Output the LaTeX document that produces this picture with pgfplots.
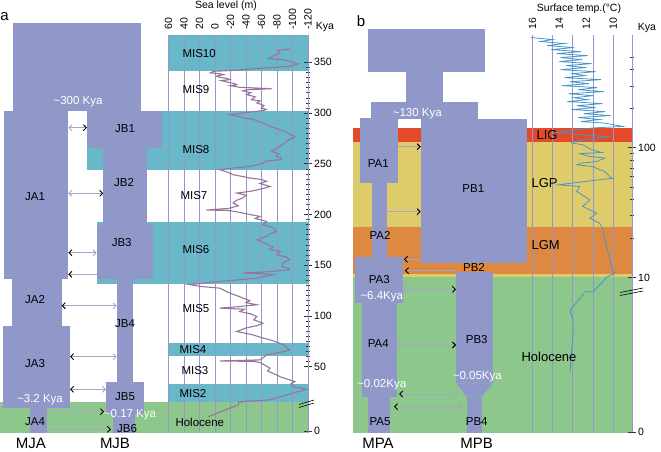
\documentclass[border=0pt]{standalone}
\usepackage{fontspec}
\setmainfont{Liberation Sans}
\usepackage{pgfplots}
\usepackage{pgfplotstable}
\pgfplotsset{compat=1.18}
\usetikzlibrary{arrows.meta}

\definecolor{tree}{RGB}{143,152,201}
\definecolor{mis}{RGB}{104,184,201}
\definecolor{holo}{RGB}{141,199,139}
\definecolor{lig}{RGB}{226,74,42}
\definecolor{lgp}{RGB}{222,204,106}
\definecolor{lgm}{RGB}{222,137,66}
\definecolor{grd}{RGB}{150,150,205}
\definecolor{sea}{RGB}{152,116,156}
\definecolor{sst}{RGB}{72,150,200}
\definecolor{arr}{RGB}{165,165,200}

\newcommand{\fs}{\fontsize{10.5}{12}\selectfont}
\newcommand{\fm}{\fontsize{11.5}{13}\selectfont}
\newcommand{\fl}{\fontsize{13}{14}\selectfont}
\newcommand{\fb}{\fontsize{15}{16}\selectfont}

% shapes in pixel units of the 661x452 frame, y pointing down
\newcommand{\blk}[5]{\addplot[fill=#1,draw=none] coordinates {(#2,#3) (#4,#3) (#4,#5) (#2,#5)};}
\newcommand{\lnk}[4]{\addplot[arr,line width=0.9pt,#1] coordinates {(#2,#4) (#3,#4)};}

\tikzset{
  lg/.style={arrows={Straight Barb[color=arr,length=3pt]-Straight Barb[color=black,length=3pt]}},
  lb/.style={arrows={Straight Barb[color=black,length=3pt]-Straight Barb[color=arr,length=3pt]}},
  ob/.style={arrows={-Straight Barb[color=black,length=3pt]}},
  bo/.style={arrows={Straight Barb[color=black,length=3pt]-}},
}

% sea level (m) against age (kya)
\pgfplotstableread{
sl kya
-97 363
-88 362.5
-81 361.6
-84 359
-77 357
-72 355
-69 353.7
-80 353
-90 352.4
-100 350
-107 348.5
-96 346
-80 345.2
-66 344.5
-45 343.4
-32 342.5
-10 341.6
2 341.2
6 339.6
-4 339
-11 337.9
-2 336.5
-6 335.3
-16 334
-19 333
-8 332
-15 330.7
-24 329.3
-28 328
-20 327
-32 325.4
-50 324.8
-73 324
-42 323
-36 322
-46 320
-41 318.2
-52 316
-47 313.2
-58 312
-54 310
-63 307.5
-60 305
-66 303.5
-62 302.4
-40 300.5
-19 298.4
-30 297
-36 295.2
-48 294
-54 292.5
-66 289
-71 286.9
-80 284.5
-88 282.6
-94 280.5
-96.5 278.7
-103 277
-101 275.4
-95 273.5
-92 271.5
-88 269.5
-84 267.1
-78 264.5
-73 262.2
-82 260
-79 257.3
-86 255.5
-84 254
-66 252.5
-60 250
-45 247.4
-20 245.5
-6 244.1
-15 242
-23.5 239.2
-35 237.5
-45 235.9
-60 234.5
-66.5 232.6
-58 230.5
-71 227.6
-62 225.5
-45 222.7
-28 221.1
-40 219
-36 216.2
-28 214
-23.5 211.3
-30 208.5
-18 206
11 204.3
-15 204
-25 203
-36 201.4
-48 199.5
-58 198
-52 196
-66.5 193.1
-62 190
-75 187
-79 183.2
-70 180.5
-66 178
-54 175
-64 172
-75 167.8
-70 165.5
-84 163.5
-80 160
-92 158
-96.5 155.3
-88 152.5
-86 148.7
-94 147
-96.5 145.4
-70 143.5
-36 142.2
-60 141.5
-75 140.5
-54 137.2
-30 135.5
-6 133.9
19 131.8
34 131
19 129
-6 127.3
-12 125
-19 122.4
-28 120
-36 117.5
-45 115
-40 113
-54 110.9
-30 109
-6 107.6
-38 106.5
-32 104.2
-46 102
-54 99.3
-50 96
-62 92.8
-55 90.5
-40 88
-28 84.5
-38 83
-49 81.2
-60 78.5
-71 76.3
-80 74
-88 71.4
-92 69
-96.5 66.4
-84 64
-66.5 61.5
-62 58.5
-58 56.5
-6 55.5
-50 55
-58 54
-65 51
-71 48.4
-68 45.5
-79 41.8
-85 39.5
-96.5 36.8
-103 35.1
-98 33
-101 30.2
-109 29
-118 27.5
-95 22.5
-71 17.1
-34 15.4
-31 12.5
-30 10.7
-22 9.8
-13 8.7
-4 7.5
3 6.6
8.6 5.9
}\sealevel

% surface temperature (C) against age (kya)
\pgfplotstableread{
t kya
16.1 707
14.5 682
15.4 659
13.6 636
14.9 613
12.9 592
14.6 571
12.4 551
14.2 532
11.9 513
13.9 496
12.3 478
14.0 462
11.6 445
13.5 430
12.0 415
13.9 400
11.3 386
13.0 373
12.1 360
13.6 347
10.9 335
13.2 323
11.8 312
13.8 301
11.2 291
12.6 280
10.7 271
13.3 261
11.5 252
12.9 243
11.9 235
13.4 227
10.8 219
12.7 211
11.3 204
13.1 197
10.6 190
12.2 183
10.2 177
12.6 171
11.0 165
12.4 159
10.62 155
9.29 146
11.59 142
14.34 131
10.40 122
11.74 117
12.86 112
13.08 109
12.26 105.5
11.59 96.5
10.85 92
12.48 90
11.74 85.7
10.62 83.3
11.22 78.4
12.33 76.2
12.71 73.9
11.59 71.8
10.62 65.6
10.26 60.0
10.03 58.3
13.08 53.4
14.08 51.8
12.48 50.3
12.71 46.0
11.74 39.7
12.26 35.3
11.22 31.3
11.74 28.6
11.00 26.2
10.75 23.3
10.50 17.3
10.00 11.1
9.88 10.8
10.75 9.73
11.50 9.08
12.10 9.08
12.36 8.76
13.10 8.0
13.20 7.79
12.98 7.25
12.98 6.39
13.10 5.2
13.20 3.9
}\tempdata

\pgfplotsset{
  canvas/.style={at={(0pt,0pt)},anchor=south west,scale only axis,
    width=661pt,height=452pt,xmin=0,xmax=661,ymin=0,ymax=452,
    y dir=reverse,hide axis,clip=false},
  dat/.style={scale only axis,anchor=south west,
    axis x line*=top,axis y line*=right,
    x axis line style={draw=none},y axis line style={grd,line width=0.8pt},
    xtick style={draw=none},
    xmajorgrids,major grid style={grd,line width=0.8pt},
    tick align=center,major tick length=8pt,minor tick length=4pt,
    ytick style={black!80,line width=0.6pt},
    tick label style={font=\fs},
    xticklabel style={rotate=90,anchor=west,inner sep=1pt},
    yticklabel style={anchor=west,inner sep=2pt}},
}

\begin{document}
\begin{tikzpicture}
\path[use as bounding box] (0pt,0pt) rectangle (661pt,452pt);

% background: climate bands and the two trees
\begin{axis}[canvas]
\blk{mis}{168.5}{35}{308}{71}
\blk{mis}{87}{111}{308}{170}
\blk{mis}{96.7}{222}{308}{284}
\blk{mis}{168.5}{343}{308}{356}
\blk{mis}{168.5}{384}{308}{402}
\blk{holo}{0}{402}{308}{433.3}
\blk{lig}{353.3}{127.7}{632}{142}
\blk{lgp}{353.3}{142}{632}{227.3}
\blk{lgm}{353.3}{227.3}{632}{274}
\blk{lgp}{353.3}{274}{632}{277}
\blk{holo}{353.3}{277}{632}{433.3}
% tree a
\blk{tree}{12.7}{22.7}{140.7}{111}
\blk{tree}{4}{111}{68.3}{279.3}
\blk{tree}{87}{111}{161.7}{148}
\blk{tree}{103.3}{148}{146.7}{225}
\blk{tree}{96.7}{225}{153}{279.3}
\blk{tree}{11.7}{279.3}{61.7}{326}
\blk{tree}{116.7}{279.3}{133.3}{381.7}
\blk{tree}{3.3}{326}{70}{408.3}
\blk{tree}{106}{381.7}{144}{414}
\blk{tree}{30}{408.3}{46.7}{433.3}
\blk{tree}{113.3}{414}{135}{433.3}
% tree b
\blk{tree}{368.3}{29.3}{485}{71.7}
\blk{tree}{405.7}{71.7}{443.3}{101.7}
\blk{tree}{371}{101.7}{477.7}{119}
\blk{tree}{420.7}{119}{526.7}{263.3}
\blk{tree}{360}{118.3}{398.3}{182.7}
\blk{tree}{371.7}{182.7}{386.7}{256.7}
\blk{tree}{355}{256.7}{403.3}{303.3}
\blk{tree}{361.7}{303.3}{396.7}{396.7}
\blk{tree}{368.3}{396.7}{390}{433.3}
\blk{tree}{456}{271.7}{492.7}{383.3}
\addplot[fill=tree,draw=none] coordinates {(456,383.3) (492.7,383.3) (481.7,396.7) (466.7,396.7)};
\blk{tree}{466.7}{396.7}{481.7}{433.3}
\end{axis}

% sea level, above the break
\begin{axis}[dat,at={(168.5pt,49pt)},width=139.5pt,height=368pt,
  xmin=-120,xmax=60,x dir=reverse,ymin=14,ymax=377,
  xtick={60,40,20,0,-20,-40,-60,-80,-100,-120},
  xticklabels={60,40,20,0,-20,-40,-60,-80,-100,-120},
  ytick={50,100,150,200,250,300,350},
  yticklabels={50,100,150,200,250,300,350},
  minor y tick num=9]
\addplot[sea,line width=1.1pt] table[x=sl,y=kya] {\sealevel};
\end{axis}
% sea level, below the break
\begin{axis}[dat,at={(168.5pt,18.6pt)},width=139.5pt,height=31.4pt,
  xmin=-120,xmax=60,x dir=reverse,ymin=-1,ymax=12,
  xtick={60,40,20,0,-20,-40,-60,-80,-100,-120},xticklabels={},
  ytick={0},yticklabels={0}]
\addplot[sea,line width=1.1pt] table[x=sl,y=kya] {\sealevel};
\end{axis}

% surface temperature, log age above the break
\begin{axis}[dat,at={(531.1pt,174.5pt)},width=100.9pt,height=242.5pt,
  xmin=8.6,xmax=16.1,x dir=reverse,ymode=log,ymin=10,ymax=740,
  xtick={16,14,12,10},xticklabels={16,14,12,10},xmajorgrids=false,
  extra x ticks={16,14.5,13,11.5,10},extra x tick labels={,,,,},
  extra x tick style={grid=major},
  ytick={10,100},yticklabels={10,100},
  minor ytick={20,30,40,50,60,70,80,90,200,300,400,500}]
\addplot[sst,line width=0.8pt] table[x=t,y=kya] {\tempdata};
\end{axis}
% surface temperature, linear age below the break
\begin{axis}[dat,at={(531.1pt,20pt)},width=100.9pt,height=154.5pt,
  xmin=8.6,xmax=16.1,x dir=reverse,ymin=0,ymax=10,
  xtick={16,14.5,13,11.5,10},xticklabels={},
  ytick={0},yticklabels={0}]
\addplot[sst,line width=0.8pt] table[x=t,y=kya] {\tempdata};
\end{axis}

% foreground: gene-flow arrows, labels, axis breaks
\begin{axis}[canvas]
\lnk{lg}{68.3}{87}{127.7}
\lnk{lg}{68.3}{103.3}{193.3}
\lnk{lb}{68.3}{96.7}{252.7}
\lnk{bo}{68.3}{96.7}{274.3}
\lnk{lb}{61.7}{116.7}{305.7}
\lnk{lb}{70}{116.7}{356.7}
\lnk{lb}{70}{106}{389.3}
\lnk{ob}{46.7}{104}{411.7}
\lnk{ob}{46.7}{111}{429.3}
\lnk{ob}{398.3}{420.7}{146.7}
\lnk{ob}{386.7}{420.7}{211.7}
\lnk{bo}{404}{420.7}{259.3}
\lnk{bo}{405}{456}{270.7}
\lnk{lg}{403.3}{456}{289.3}
\lnk{lg}{396.7}{456}{345}
\lnk{lb}{399}{458}{394}
\lnk{lb}{394}{462}{406.7}
\addplot[black,line width=0.6pt] coordinates {(299,404.5) (314,400)};
\addplot[black,line width=0.6pt] coordinates {(299,407.5) (314,403)};
\addplot[black,line width=0.6pt] coordinates {(620,292.5) (643,288)};
\addplot[black,line width=0.6pt] coordinates {(620,295.5) (643,291)};

\node[font=\fontsize{15}{16}\selectfont] at (axis cs:4.5,17) {a};
\node[font=\fontsize{15}{16}\selectfont] at (axis cs:361,21) {b};
\node[font=\fs] at (axis cs:226,6) {Sea level (m)};
\node[font=\fs] at (axis cs:325,27) {Kya};
\node[font=\fs] at (axis cs:579,9) {Surface temp.(°C)};
\node[font=\fs] at (axis cs:647,28) {Kya};

\node[font=\fm,anchor=west] at (axis cs:179,54) {MIS10};
\node[font=\fm,anchor=west] at (axis cs:179,90) {MIS9};
\node[font=\fm,anchor=west] at (axis cs:179,149.3) {MIS8};
\node[font=\fm,anchor=west] at (axis cs:177,196) {MIS7};
\node[font=\fm,anchor=west] at (axis cs:179,250) {MIS6};
\node[font=\fm,anchor=west] at (axis cs:179,308.3) {MIS5};
\node[font=\fm,anchor=west] at (axis cs:176,349.3) {MIS4};
\node[font=\fm,anchor=west] at (axis cs:178,370.7) {MIS3};
\node[font=\fm,anchor=west] at (axis cs:176,393.3) {MIS2};
\node[font=\fm,anchor=west] at (axis cs:172,422.7) {Holocene};

\node[font=\fl,anchor=west] at (axis cs:533,135) {LIG};
\node[font=\fl,anchor=west] at (axis cs:528,183.3) {LGP};
\node[font=\fl,anchor=west] at (axis cs:528,245) {LGM};
\node[font=\fl,anchor=west] at (axis cs:518,356.7) {Holocene};

\node[font=\fm] at (axis cs:35,196.7) {JA1};
\node[font=\fm] at (axis cs:125,128.3) {JB1};
\node[font=\fm] at (axis cs:124,182.7) {JB2};
\node[font=\fm] at (axis cs:121.7,242.7) {JB3};
\node[font=\fm] at (axis cs:35,300) {JA2};
\node[font=\fm] at (axis cs:125,323.3) {JB4};
\node[font=\fm] at (axis cs:35,364) {JA3};
\node[font=\fm] at (axis cs:125,396.7) {JB5};
\node[font=\fm] at (axis cs:35,421.7) {JA4};
\node[font=\fm] at (axis cs:127,428.3) {JB6};
\node[font=\fm,white] at (axis cs:78,101.7) {\textasciitilde300 Kya};
\node[font=\fm,white] at (axis cs:40,400) {\textasciitilde3.2 Kya};
\node[font=\fm,white] at (axis cs:130,415) {\textasciitilde0.17 Kya};

\node[font=\fm] at (axis cs:378.3,163.3) {PA1};
\node[font=\fm] at (axis cs:473.3,188.3) {PB1};
\node[font=\fm] at (axis cs:380,235) {PA2};
\node[font=\fm] at (axis cs:379.3,279.3) {PA3};
\node[font=\fm] at (axis cs:474,267.3) {PB2};
\node[font=\fm] at (axis cs:378.3,343.3) {PA4};
\node[font=\fm] at (axis cs:476.7,340) {PB3};
\node[font=\fm] at (axis cs:380,421.7) {PA5};
\node[font=\fm] at (axis cs:476.7,421.7) {PB4};
\node[font=\fm,white] at (axis cs:417.3,113.3) {\textasciitilde130 Kya};
\node[font=\fm,white] at (axis cs:381.7,296.7) {\textasciitilde6.4Kya};
\node[font=\fm,white] at (axis cs:381.7,385) {\textasciitilde0.02Kya};
\node[font=\fm,white] at (axis cs:477.3,376.7) {\textasciitilde0.05Kya};

\node[font=\fb,inner sep=0pt] at (axis cs:31,443) {MJA};
\node[font=\fb,inner sep=0pt] at (axis cs:115,443) {MJB};
\node[font=\fb,inner sep=0pt] at (axis cs:378,443) {MPA};
\node[font=\fb,inner sep=0pt] at (axis cs:476.7,443) {MPB};
\end{axis}
\end{tikzpicture}
\end{document}
